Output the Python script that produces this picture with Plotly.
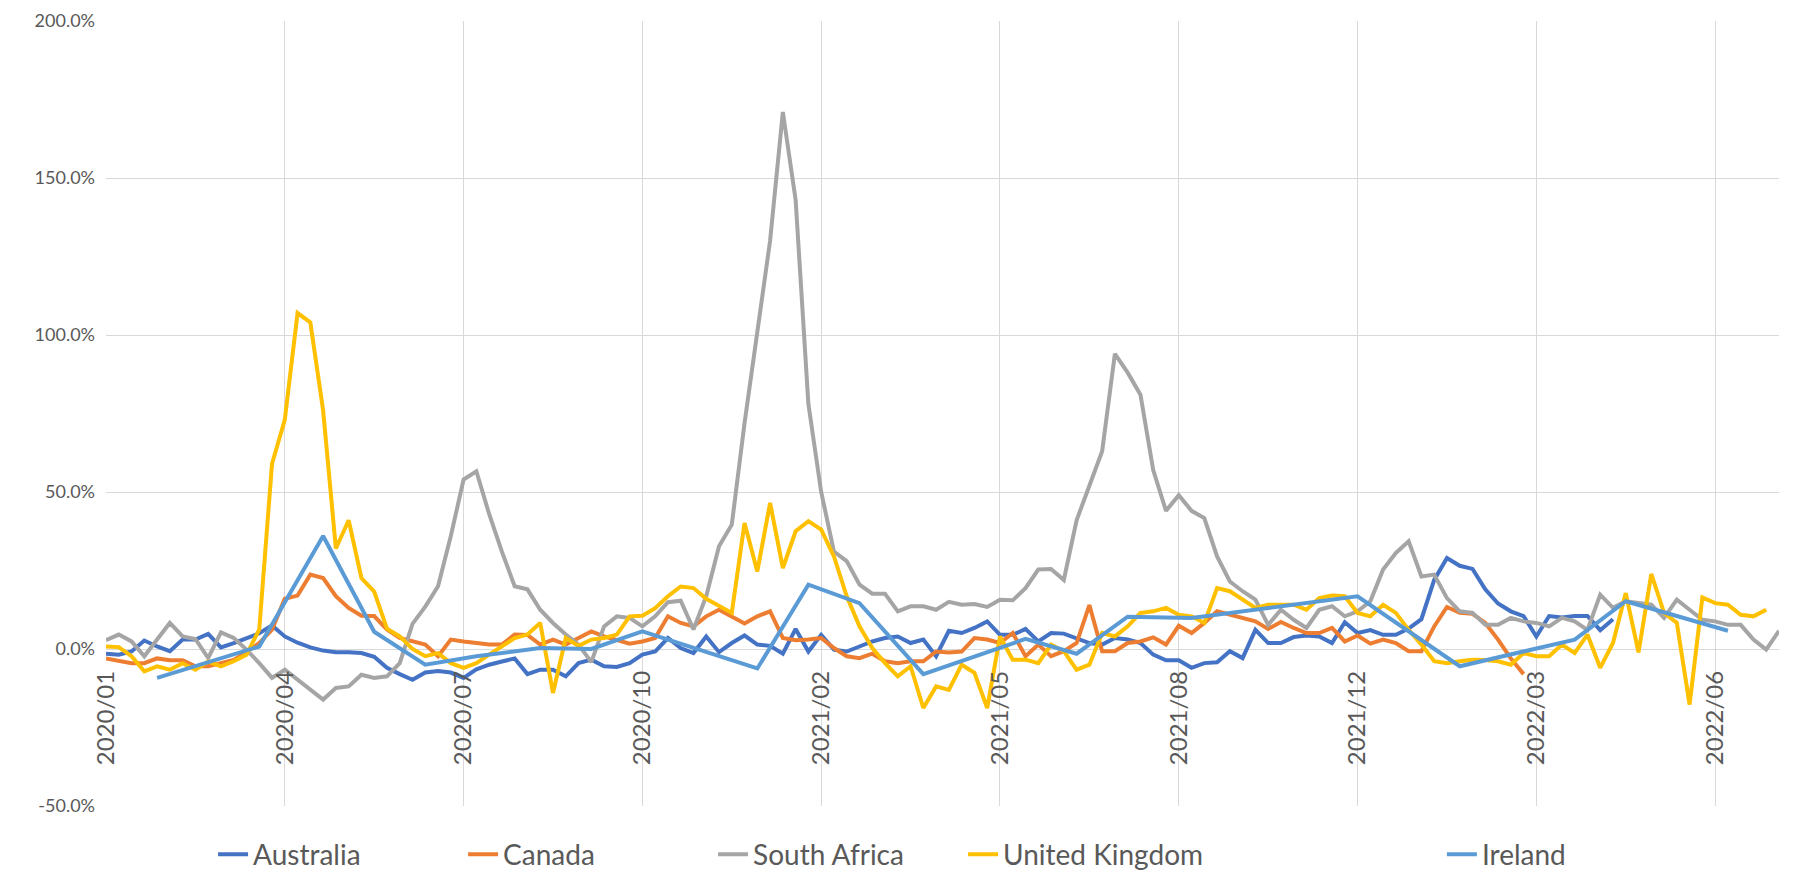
import plotly.graph_objects as go

# Weekly index (0 = first week of 2020/01); month labels every 14 weeks
week_count = 132
label_step = 14
tick_labels = ["2020/01", "2020/04", "2020/07", "2020/10", "2021/02",
               "2021/05", "2021/08", "2021/12", "2022/03", "2022/06"]
y_ticks = [-50, 0, 50, 100, 150, 200]

# Week-on-week change, %
australia = [
    -1.5, -1.8, -0.8, 2.7, 0.8, -0.7, 3.0, 3.0, 4.8, 0.5,
    1.9, 3.5, 5.0, 7.5, 4.0, 2.0, 0.5, -0.5, -1.0, -1.0,
    -1.3, -2.5, -6.0, -8.0, -9.8, -7.5, -7.0, -7.5, -9.2, -6.5,
    -5.0, -4.0, -3.0, -8.0, -6.6, -6.6, -8.7, -4.5, -3.4, -5.5,
    -5.7, -4.5, -1.8, -0.8, 3.5, 0.3, -1.3, 4.0, -1.0, 1.9,
    4.3, 1.4, 1.0, -1.5, 6.4, -0.8, 4.5, -0.2, -0.8, 0.8,
    2.4, 3.5, 4.0, 1.9, 3.0, -2.3, 5.8, 5.1, 6.7, 8.8,
    4.5, 4.5, 6.4, 2.4, 5.1, 4.9, 3.5, 1.9, 1.4, 3.5,
    3.0, 1.9, -1.8, -3.6, -3.6, -6.0, -4.5, -4.2, -0.7, -2.9,
    6.1, 1.9, 1.9, 3.8, 4.3, 4.0, 1.9, 8.5, 5.1, 6.0,
    4.5, 4.5, 6.5, 9.5, 22.0, 29.0, 26.5, 25.5, 19.0, 14.5,
    12.0, 10.5, 4.0, 10.5, 10.0, 10.5, 10.5, 6.0, 9.5,
] + [None] * 13

canada = [
    -3.0, -3.9, -4.5, -4.5, -3.0, -3.6, -3.6, -5.5, -5.5, -4.5,
    -3.5, -1.0, 1.9, 6.2, 16.0, 17.0, 23.7, 22.6, 16.8, 13.1,
    10.6, 10.5, 6.2, 3.5, 2.5, 1.4, -2.3, 3.0, 2.4, 1.9,
    1.4, 1.4, 4.6, 4.5, 1.4, 3.0, 1.4, 3.5, 5.6, 4.0,
    3.0, 1.7, 2.4, 3.5, 10.4, 8.3, 7.2, 10.4, 12.5, 10.4,
    8.1, 10.4, 12.0, 3.5, 2.8, 3.0, 3.5, 0.3, -2.3, -2.9,
    -1.5, -3.9, -4.5, -3.9, -3.9, -0.8, -1.1, -0.8, 3.5, 3.0,
    1.9, 5.1, -2.3, 1.4, -2.3, -0.7, 1.9, 14.0, -0.7, -0.7,
    1.9, 2.4, 3.7, 1.4, 7.4, 5.1, 8.3, 12.0, 10.9, 9.9,
    8.8, 6.4, 8.6, 6.7, 5.1, 5.1, 6.7, 2.4, 4.3, 1.7,
    3.0, 1.9, -0.7, -0.7, 7.2, 13.4, 11.5, 11.2, 8.3, 3.0,
    -3.0, -8.0,
] + [None] * 20

south_africa = [
    2.8, 4.6, 2.4, -2.3, 3.0, 8.3, 4.0, 3.2, -2.9, 5.3,
    3.5, -0.2, -4.5, -9.2, -6.6, -9.8, -13.0, -16.1, -12.4, -11.9,
    -8.2, -9.2, -8.7, -4.5, 8.0, 13.5, 20.0, 36.0, 54.0, 56.6,
    43.0, 31.0, 20.0, 19.0, 12.5, 8.3, 4.6, 1.4, -4.2, 7.2,
    10.4, 9.9, 7.2, 10.4, 14.9, 15.4, 6.2, 16.8, 32.7, 39.6,
    72.0, 100.0, 130.0, 171.0, 143.0, 78.0, 50.0, 31.0, 28.0, 20.5,
    17.6, 17.6, 12.0, 13.6, 13.6, 12.5, 15.0, 14.1, 14.3, 13.4,
    15.7, 15.5, 19.4, 25.3, 25.5, 22.0, 41.0, 52.0, 63.0, 94.0,
    88.0, 81.0, 57.0, 44.0, 49.0, 44.0, 41.7, 29.5, 21.5, 18.4,
    15.7, 7.7, 12.5, 9.3, 6.7, 12.5, 13.6, 10.4, 12.0, 15.2,
    25.3, 30.6, 34.3, 23.1, 23.7, 16.2, 12.0, 11.5, 7.7, 7.7,
    9.9, 8.8, 8.3, 7.2, 9.9, 8.8, 6.1, 17.3, 13.1, 15.2,
    14.6, 14.1, 9.9, 15.7, 12.5, 9.3, 8.8, 7.7, 7.7, 3.0,
    -0.2, 5.8,
]

united_kingdom = [
    0.8, 0.6, -2.3, -7.1, -5.5, -6.6, -4.5, -6.6, -4.0, -5.5,
    -3.9, -1.8, 6.2, 59.0, 73.0, 107.0, 104.0, 76.0, 32.0, 41.0,
    22.6, 18.3, 6.5, 4.0, 0.0, -2.3, -1.3, -4.5, -6.0, -4.5,
    -1.8, 0.8, 3.5, 4.6, 8.3, -14.0, 3.5, 1.0, 3.0, 3.5,
    4.6, 10.4, 10.6, 13.0, 16.8, 19.9, 19.4, 16.0, 13.6, 11.5,
    40.1, 24.7, 46.5, 25.8, 37.5, 40.7, 38.0, 29.5, 16.8, 7.2,
    0.3, -4.5, -8.7, -5.5, -18.8, -11.9, -13.0, -5.0, -7.6, -18.8,
    4.0, -3.4, -3.4, -4.5, 1.4, -0.7, -6.6, -5.0, 5.1, 4.0,
    7.2, 11.5, 12.0, 13.1, 10.9, 10.4, 8.3, 19.4, 18.4, 15.7,
    13.1, 14.1, 14.1, 14.1, 12.5, 16.2, 17.0, 16.8, 11.5, 10.4,
    14.1, 11.5, 6.1, 1.4, -3.9, -4.5, -3.9, -3.4, -3.5, -3.9,
    -5.0, -1.3, -2.3, -2.3, 1.4, -1.3, 4.6, -6.0, 1.9, 17.8,
    -1.1, 23.9, 11.5, 8.3, -17.7, 16.4, 14.6, 14.1, 10.9, 10.4,
    12.5,
] + [None]

# Ireland is reported monthly: weeks with a reading, and the reading
ireland_weeks = [4, 12, 17, 21, 25, 29, 34, 38, 42, 51, 55, 59, 64,
                 72, 76, 80, 85, 98, 106, 115, 119, 123, 127]
ireland_values = [-9.2, 0.8, 36.0, 5.5, -5.0, -2.3, 0.3, 0.0, 5.6, -6.2,
                  20.5, 14.6, -8.0, 3.2, -1.5, 10.3, 9.9, 16.8, -5.5, 3.0,
                  15.2, 10.5, 5.8]

ireland = [None] * week_count
for w, v in zip(ireland_weeks, ireland_values):
    ireland[w] = v

weeks = list(range(week_count))

series = [
    ("Australia", australia, "#4472C4", "legend"),
    ("Canada", canada, "#ED7D31", "legend"),
    ("South Africa", south_africa, "#A5A5A5", "legend"),
    ("United Kingdom", united_kingdom, "#FFC000", "legend"),
    ("Ireland", ireland, "#5B9BD5", "legend2"),
]

fig = go.Figure()
for name, vals, color, leg in series:
    fig.add_trace(go.Scatter(
        x=weeks, y=vals, mode="lines", name=name,
        line=dict(color=color, width=4),
        connectgaps=(name == "Ireland"),
        legend=leg,
    ))

grid = "#D9D9D9"
text_col = "#595959"
font_family = "Lato"

y_min, y_max = y_ticks[0], y_ticks[-1]

fig.update_layout(
    width=1801, height=871,
    margin=dict(l=106, r=22, t=21, b=65, autoexpand=False),
    paper_bgcolor="white", plot_bgcolor="white",
    font=dict(family=font_family, color=text_col),
    showlegend=True,
    xaxis=dict(
        range=[0, week_count - 1],
        tickmode="array",
        tickvals=[k * label_step for k in range(len(tick_labels))],
        ticktext=tick_labels,
        tickangle=-90,
        tickfont=dict(size=24, color=text_col, family=font_family),
        showgrid=True, gridcolor=grid, gridwidth=1,
        zeroline=False, showline=False, ticks="",
        anchor="free",
        position=(0 - y_min) / (y_max - y_min),
        ticklabelstandoff=16,
    ),
    yaxis=dict(
        range=[y_min, y_max],
        tickmode="array",
        tickvals=y_ticks,
        ticktext=[f"{v:.1f}%" for v in y_ticks],
        tickfont=dict(size=18, color=text_col, family=font_family),
        showgrid=True, gridcolor=grid, gridwidth=1,
        zeroline=False, showline=False, ticks="",
        ticklabelstandoff=10,
    ),
    legend=dict(
        orientation="h", x=0.064, y=-0.062,
        xanchor="left", yanchor="middle",
        font=dict(size=28, color=text_col, family=font_family),
        entrywidth=205, entrywidthmode="pixels",
        bgcolor="rgba(0,0,0,0)",
    ),
    legend2=dict(
        orientation="h", x=0.7985, y=-0.062,
        xanchor="left", yanchor="middle",
        font=dict(size=28, color=text_col, family=font_family),
        bgcolor="rgba(0,0,0,0)",
    ),
)

fig.write_html("out.html")
